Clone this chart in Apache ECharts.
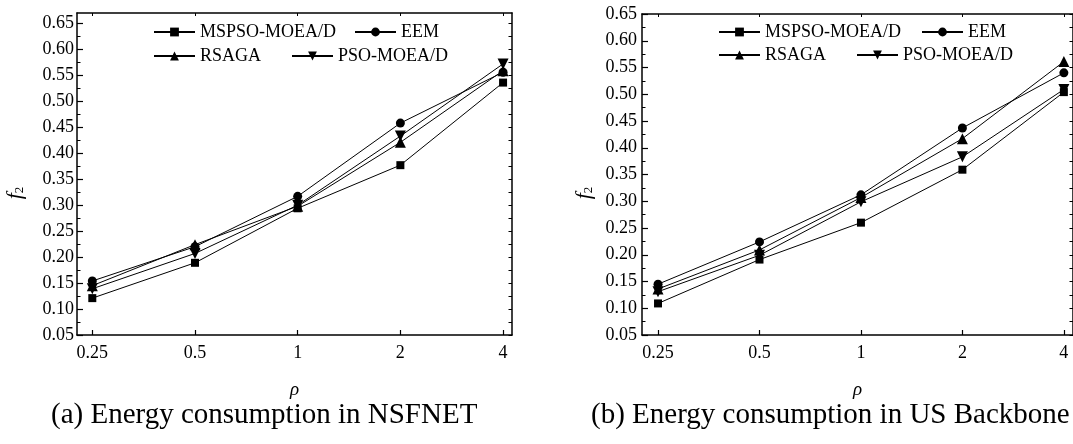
<!DOCTYPE html>
<html>
<head>
<meta charset="utf-8">
<script src="https://cdn.jsdelivr.net/npm/echarts@6/dist/echarts.min.js"></script>
<style>
  html, body { margin: 0; padding: 0; background: #fff; }
  #chart { width: 1073px; height: 444px; }
</style>
</head>
<body>
<div id="chart"></div>
<script>
// x categories (traffic load rho) and y tick values
const rhoLabels = ['0.25', '0.5', '1', '2', '4'];
const yTickValues = [0.05, 0.10, 0.15, 0.20, 0.25, 0.30, 0.35, 0.40, 0.45, 0.50, 0.55, 0.60, 0.65];
const yMinorValues = [0.075, 0.125, 0.175, 0.225, 0.275, 0.325, 0.375, 0.425, 0.475, 0.525, 0.575, 0.625];
const seriesNames = ['MSPSO-MOEA/D', 'EEM', 'RSAGA', 'PSO-MOEA/D'];

// (a) NSFNET, f2 per algorithm
const nsfMSPSO = [0.121, 0.189, 0.294, 0.377, 0.536];
const nsfEEM   = [0.154, 0.220, 0.317, 0.458, 0.556];
const nsfRSAGA = [0.145, 0.224, 0.298, 0.421, 0.559];
const nsfPSO   = [0.139, 0.207, 0.300, 0.433, 0.572];

// (b) US Backbone, f2 per algorithm
const usMSPSO = [0.109, 0.191, 0.260, 0.359, 0.504];
const usEEM   = [0.145, 0.224, 0.312, 0.437, 0.540];
const usRSAGA = [0.136, 0.209, 0.307, 0.417, 0.561];
const usPSO   = [0.131, 0.199, 0.299, 0.383, 0.509];

const SERIF = '"Liberation Serif", "Times New Roman", serif';
const BLACK = '#000';
const FS = 18;
const symbols = [
  { symbol: 'rect', size: 8, rotate: 0 },
  { symbol: 'circle', size: 9, rotate: 0 },
  { symbol: 'triangle', size: 11, rotate: 0 },
  { symbol: 'triangle', size: 11, rotate: 180 }
];
const tickIdx = rhoLabels.map((_, i) => i);

const panels = [
  { grid: { left: 77, top: 13, width: 435, height: 322 }, yMax: 0.67, xMin: -0.149, xMax: 4.087,
    labelMargin: 3, values: [nsfMSPSO, nsfEEM, nsfRSAGA, nsfPSO],
    legend: [[153, 32], [354, 32], [153, 56], [291, 56]] },
  { grid: { left: 642, top: 14, width: 436, height: 321 }, yMax: 0.65, xMin: -0.158, xMax: 4.09,
    labelMargin: 5, values: [usMSPSO, usEEM, usRSAGA, usPSO],
    legend: [[718, 32], [921, 32], [718, 55], [856, 55]] }
];

const option = {
  animation: false,
  backgroundColor: '#fff',
  grid: [], xAxis: [], yAxis: [], series: [], legend: [], graphic: []
};

panels.forEach((p, g) => {
  option.grid.push(p.grid);
  const lineStyle = { color: BLACK, width: 1.5 };
  // bottom axis with labels
  option.xAxis.push({
    type: 'value', gridIndex: g, position: 'bottom', min: p.xMin, max: p.xMax,
    axisLine: { show: true, onZero: false, lineStyle },
    axisTick: { show: true, inside: true, length: 5, customValues: tickIdx, lineStyle: { color: BLACK, width: 1.2 } },
    axisLabel: { show: true, customValues: tickIdx, margin: 9, formatter: v => rhoLabels[Math.round(v)],
                 fontFamily: SERIF, fontSize: FS, color: BLACK },
    splitLine: { show: false },
    name: 'ρ', nameLocation: 'middle', nameGap: 45,
    nameTextStyle: { fontFamily: SERIF, fontStyle: 'italic', fontSize: 19, color: BLACK }
  });
  // top frame
  option.xAxis.push({
    type: 'value', gridIndex: g, position: 'top', min: p.xMin, max: p.xMax,
    axisLine: { show: true, onZero: false, lineStyle },
    axisTick: { show: true, inside: true, length: 3, customValues: tickIdx, lineStyle: { color: BLACK, width: 1 } },
    axisLabel: { show: false }, splitLine: { show: false }
  });
  // left axis with labels and major ticks
  option.yAxis.push({
    type: 'value', gridIndex: g, position: 'left', min: 0.05, max: p.yMax,
    axisLine: { show: true, onZero: false, lineStyle },
    axisTick: { show: true, inside: true, length: 6, customValues: yTickValues, lineStyle: { color: BLACK, width: 1.2 } },
    axisLabel: { show: true, customValues: yTickValues, margin: p.labelMargin, formatter: v => v.toFixed(2),
                 fontFamily: SERIF, fontSize: FS, color: BLACK },
    splitLine: { show: false }
  });
  // left minor ticks
  option.yAxis.push({
    type: 'value', gridIndex: g, position: 'left', min: 0.05, max: p.yMax,
    axisLine: { show: false, onZero: false },
    axisTick: { show: true, inside: true, length: 3.5, customValues: yMinorValues, lineStyle: { color: BLACK, width: 1 } },
    axisLabel: { show: false }, splitLine: { show: false }
  });
  // right frame
  option.yAxis.push({
    type: 'value', gridIndex: g, position: 'right', min: 0.05, max: p.yMax,
    axisLine: { show: true, onZero: false, lineStyle },
    axisTick: { show: true, inside: true, length: 3.5, customValues: yTickValues.concat(yMinorValues), lineStyle: { color: BLACK, width: 1 } },
    axisLabel: { show: false }, splitLine: { show: false }
  });

  seriesNames.forEach((name, k) => {
    option.series.push({
      type: 'line', name, xAxisIndex: g * 2, yAxisIndex: g * 3,
      data: p.values[k].map((v, i) => [i, v]),
      symbol: symbols[k].symbol, symbolSize: symbols[k].size, symbolRotate: symbols[k].rotate,
      showAllSymbol: true,
      lineStyle: { color: BLACK, width: 1 },
      itemStyle: { color: BLACK },
      emphasis: { disabled: true }
    });
    option.legend.push({
      data: [name], left: p.legend[k][0], top: p.legend[k][1] - 9, padding: 0,
      itemWidth: 41, itemHeight: 11, selectedMode: false,
      textStyle: { fontFamily: SERIF, fontSize: FS, color: BLACK, lineHeight: 18 }
    });
  });
});

// y axis titles f2
[[15, 193], [584, 193]].forEach(([x, y]) => {
  option.graphic.push({
    type: 'text', x, y, rotation: Math.PI / 2,
    style: {
      text: '{f|f}{s|2}', align: 'center', verticalAlign: 'middle', fill: BLACK,
      rich: {
        f: { fontFamily: SERIF, fontStyle: 'italic', fontSize: 22, lineHeight: 22, verticalAlign: 'middle' },
        s: { fontFamily: SERIF, fontSize: 13, lineHeight: 13, verticalAlign: 'bottom' }
      }
    }
  });
});

// sub-figure captions
[['(a) Energy consumption in NSFNET', 51], ['(b) Energy consumption in US Backbone', 591]].forEach(([t, x]) => {
  option.graphic.push({
    type: 'text', x, y: 415,
    style: { text: t, align: 'left', verticalAlign: 'middle', fill: BLACK,
             fontFamily: SERIF, fontSize: 29 }
  });
});

const chart = echarts.init(document.getElementById('chart'), null, { renderer: 'canvas' });
chart.setOption(option);
</script>
</body>
</html>
